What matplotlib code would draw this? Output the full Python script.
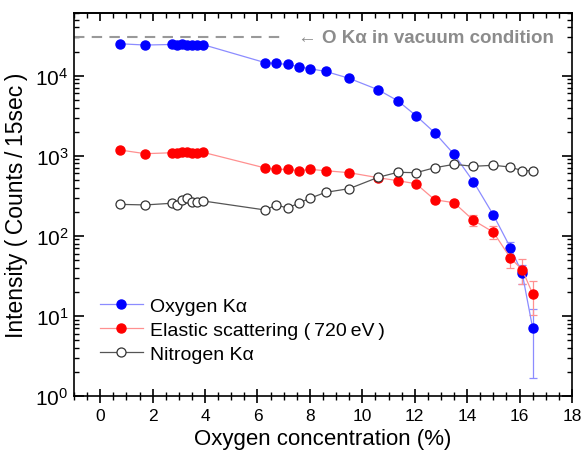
import matplotlib
matplotlib.use("Agg")
import matplotlib.pyplot as plt
from matplotlib.ticker import MultipleLocator, LogLocator, NullFormatter
import numpy as np

plt.rcParams['font.family'] = ['Liberation Sans', 'DejaVu Sans']
plt.rcParams['mathtext.fontset'] = 'custom'
plt.rcParams['mathtext.rm'] = 'Liberation Sans'
plt.rcParams['mathtext.it'] = 'Liberation Sans:italic'

# Data
oxygen_conc = [0.75, 1.72, 2.74, 2.93, 3.12, 3.31, 3.50, 3.69, 3.94,
               6.3, 6.72, 7.15, 7.6, 8.0, 8.6, 9.5, 10.6, 11.35, 12.05,
               12.76, 13.5, 14.24, 15.0, 15.65, 16.1, 16.5]
oxygen_ka = [25000, 24100, 24500, 24300, 24500, 24300, 24300, 24100, 24300,
             14500, 14200, 13800, 12900, 12200, 11300, 9250, 6670, 4860, 3160,
             1940, 1040, 474, 182, 71, 34, 7.0]
oxygen_err = [300, 300, 300, 300, 300, 300, 300, 300, 300,
              200, 200, 200, 200, 200, 200, 150, 100, 80, 60,
              40, 30, 20, 15, 13, 9, 5.3]
elastic = [1180, 1060, 1090, 1080, 1100, 1120, 1090, 1090, 1100,
           702, 676, 676, 650, 676, 650, 614, 532, 488, 447,
           282, 259, 156, 111, 52.8, 37.8, 18.8]
elastic_err = [20, 20, 20, 20, 20, 20, 20, 20, 20,
               15, 15, 15, 15, 15, 15, 15, 15, 15, 15,
               15, 15, 24, 20, 13, 13, 8.5]
nitrogen = [247, 243, 255, 246, 277, 297, 264, 266, 272,
            210, 243, 222, 258, 294, 349, 388, 537, 621, 614,
            708, 781, 738, 760, 722, 650, 650]
nitrogen_err = [14, 14, 14, 14, 14, 14, 14, 14, 14,
                12, 12, 12, 12, 12, 14, 14, 18, 18, 18,
                18, 18, 18, 18, 18, 18, 18]
vacuum_level = 30000

fig = plt.figure(figsize=(5.84, 4.56), dpi=100)
ax = fig.add_axes([0.1267, 0.1294, 0.8528, 0.8392])

c1 = ax.errorbar(oxygen_conc, oxygen_ka, yerr=oxygen_err, color='#8c8cff', lw=0.9,
                 marker='o', ms=6.5, mfc='#0000ff', mec='#0000ff',
                 ecolor='#8c8cff', elinewidth=0.9, capsize=3, capthick=0.9, zorder=3)
c2 = ax.errorbar(oxygen_conc, elastic, yerr=elastic_err, color='#ff9090', lw=0.9,
                 marker='o', ms=6.5, mfc='#ff0000', mec='#ff0000',
                 ecolor='#ff9090', elinewidth=0.9, capsize=3, capthick=0.9, zorder=3)
c3 = ax.errorbar(oxygen_conc, nitrogen, yerr=nitrogen_err, color='#555555', lw=0.9,
                 marker='o', ms=6.5, mfc='white', mec='#333333', mew=0.9,
                 ecolor='#555555', elinewidth=0.9, capsize=2.5, capthick=0.9, zorder=3)

ax.plot([-1, 7.1], [vacuum_level, vacuum_level], ls=(0, (5, 3.5)), color='#999999', lw=1.5, zorder=2)
ax.text(7.55, vacuum_level, '\u2190 O K\u03b1 in vacuum condition', color='#8c8c8c',
        fontsize=13.5, fontweight='bold', va='center', ha='left')

ax.set_yscale('log')
ax.set_xlim(-1, 18)
ax.set_ylim(1, 60000)
ax.xaxis.set_major_locator(MultipleLocator(2))
ax.xaxis.set_minor_locator(MultipleLocator(0.5))
ax.yaxis.set_major_locator(LogLocator(base=10, numticks=10))
ax.yaxis.set_minor_locator(LogLocator(base=10, subs=np.arange(2, 10), numticks=20))
ax.yaxis.set_minor_formatter(NullFormatter())

ax.tick_params(axis='x', which='major', direction='inout', length=10, width=1.2, labelsize=12.5, top=False, pad=4)
ax.tick_params(axis='x', which='minor', direction='inout', length=5.5, width=1.0, top=False)
ax.tick_params(axis='y', which='major', direction='in', length=7, width=1.2, labelsize=15, right=True, pad=4)
ax.tick_params(axis='y', which='minor', direction='in', length=3.5, width=1.0, right=True)
for s in ax.spines.values():
    s.set_linewidth(1.2)

sec = ax.secondary_xaxis('top')
sec.xaxis.set_major_locator(MultipleLocator(2))
sec.xaxis.set_minor_locator(MultipleLocator(0.5))
sec.tick_params(axis='x', which='major', direction='in', length=6, width=1.2, labeltop=False)
sec.tick_params(axis='x', which='minor', direction='in', length=3.5, width=1.0)
sec.spines['top'].set_linewidth(1.2)

ax.set_xlabel('Oxygen concentration (%)', fontsize=16, labelpad=3)
ax.set_ylabel('Intensity (\u2009Counts\u2009/\u200915sec\u2009)', fontsize=16.5, labelpad=5)

labels = ['Oxygen K\u03b1', 'Elastic scattering (\u2009720\u2009eV\u2009)', 'Nitrogen K\u03b1']
leg = ax.legend([c1[0], c2[0], c3[0]], labels, loc='lower left', bbox_to_anchor=(0.025, 0.05),
                frameon=False, fontsize=14, handlelength=2.2, handletextpad=0.35,
                labelspacing=0.33, borderaxespad=0.3)

fig.savefig('out.png', dpi=100)
